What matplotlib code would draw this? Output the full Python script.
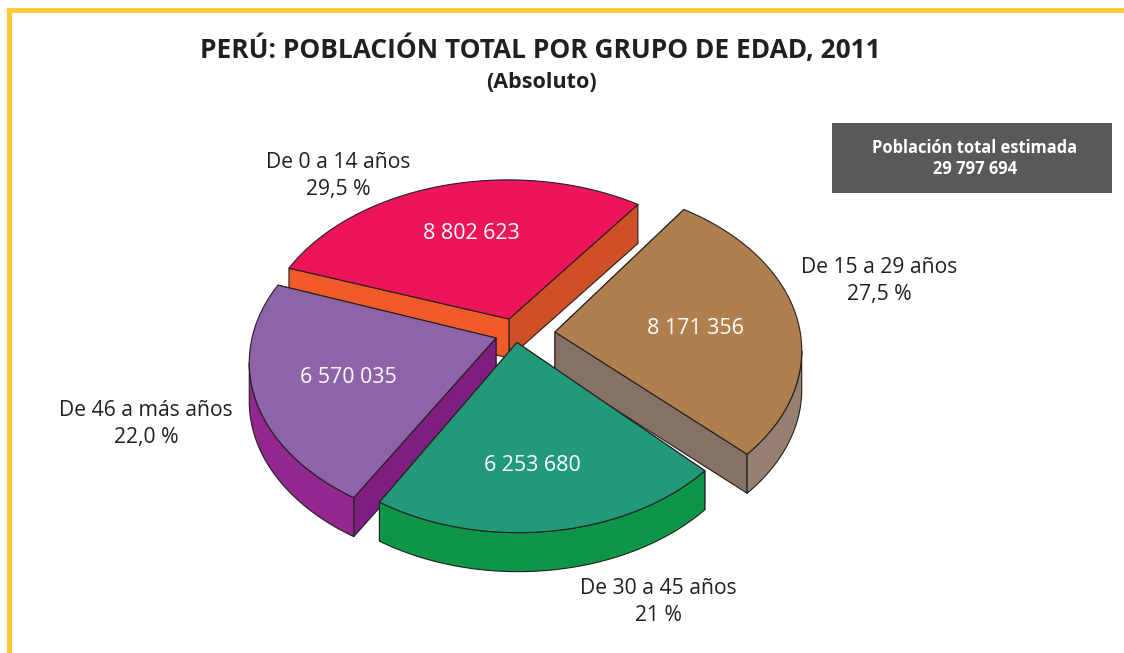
import numpy as np
import matplotlib
matplotlib.use('Agg')
import matplotlib.pyplot as plt
from matplotlib.patches import Polygon, Rectangle

plt.rcParams['font.family'] = ['Open Sans', 'DejaVu Sans']

TITLE = 'PERÚ: POBLACIÓN TOTAL POR GRUPO DE EDAD, 2011'
SUBTITLE = '(Absoluto)'
BOX_LINES = ['Población total estimada', '29 797 694']

# counter-clockwise from the pink slice's right edge
groups = ['De 0 a 14 años', 'De 46 a más años', 'De 30 a 45 años', 'De 15 a 29 años']
percents = ['29,5 %', '22,0 %', '21 %', '27,5 %']
values = [8802623, 6570035, 6253680, 8171356]
value_labels = ['8 802 623', '6 570 035', '6 253 680', '8 171 356']

# styles
top_colors = ['#ee1459', '#8e63a8', '#229a79', '#af7f4e']
start_wall = ['#cf5027', '#7f1e7e', '#0d9647', '#857264']
end_wall = ['#f15a29', '#7f1e7e', '#0d9647', '#857264']
arc_wall = ['#cf5027', '#92278f', '#0d9647', '#968072']
ink = '#231f20'

# layout, in pixels
START_ANGLE = 53.6
RY, PERSP = 162, 0.148
DEPTH = 39
slice_rx = [245, 245, 237, 245]
rim_shift = [(-1, 2), (1, 0), (1, 0), (-1, -6)]
slice_centers = [(509, 319), (496, 338), (517, 342.5), (555, 332)]
value_pos = [(471, 233.5), (348, 377.5), (532, 465.5), (695, 328.5)]
label_pos = [(338, 176), (146, 424), (658, 602), (879, 281)]
draw_order = [0, 3, 1, 2]


def project(center, rx, shift, theta):
    u, v = np.cos(theta), np.sin(theta)
    den = 1 + PERSP * v
    return center[0] + shift[0] + rx * u / den, center[1] + shift[1] - RY * v / den


def wall(ax, x, y, color):
    pts = np.r_[np.c_[x, y], np.c_[x[::-1], y[::-1] + DEPTH]]
    ax.add_patch(Polygon(pts, closed=True, fc=color, ec=ink, lw=0.8, joinstyle='round'))


fig = plt.figure(figsize=(11.24, 6.53), dpi=100)
ax = fig.add_axes([0, 0, 1, 1])
ax.set_xlim(0, 1124)
ax.set_ylim(653, 0)
ax.axis('off')

ax.add_patch(Rectangle((7, 8), 1117, 5, fc='#fec93d', ec='none'))
ax.add_patch(Rectangle((7, 8), 5, 645, fc='#fec93d', ec='none'))

shares = np.array(values) / sum(values) * 360
edges = START_ANGLE + np.r_[0, np.cumsum(shares)]

for i in draw_order:
    c = slice_centers[i]
    theta = np.radians(np.linspace(edges[i], edges[i + 1], 120))
    x, y = project(c, slice_rx[i], rim_shift[i], theta)

    # far wall first, walls that face away end up under the top face
    walls = [(x[0], y[0], start_wall[i]), (x[-1], y[-1], end_wall[i])]
    walls.sort(key=lambda w: w[1])
    for wx, wy, color in walls:
        wall(ax, np.array([c[0], wx]), np.array([c[1], wy]), color)
    right = np.diff(x) > 0
    front = np.r_[right, False] | np.r_[False, right]
    if front.any():
        wall(ax, x[front], y[front], arc_wall[i])

    top = np.r_[[c], np.c_[x, y]]
    ax.add_patch(Polygon(top, closed=True, fc=top_colors[i], ec=ink, lw=0.8, joinstyle='round'))
    ax.text(*value_pos[i], value_labels[i], color='white', fontsize=15.4, ha='center', va='center')
    ax.text(*label_pos[i], groups[i] + '\n' + percents[i], color=ink, fontsize=15.2,
            ha='center', va='center', linespacing=1.38)

ax.text(540, 50, TITLE, color=ink, fontsize=18.9, fontweight='bold', ha='center', va='center')
ax.text(541, 82, SUBTITLE, color=ink, fontsize=15.5, fontweight='bold', ha='center', va='center')

ax.add_patch(Rectangle((832, 123), 280, 70, fc='#58595b', ec='none'))
ax.text(975, 158.5, '\n'.join(BOX_LINES), color='white', fontsize=11.9, fontweight='bold',
        ha='center', va='center', linespacing=1.25)

fig.savefig('out.png', dpi=100)
